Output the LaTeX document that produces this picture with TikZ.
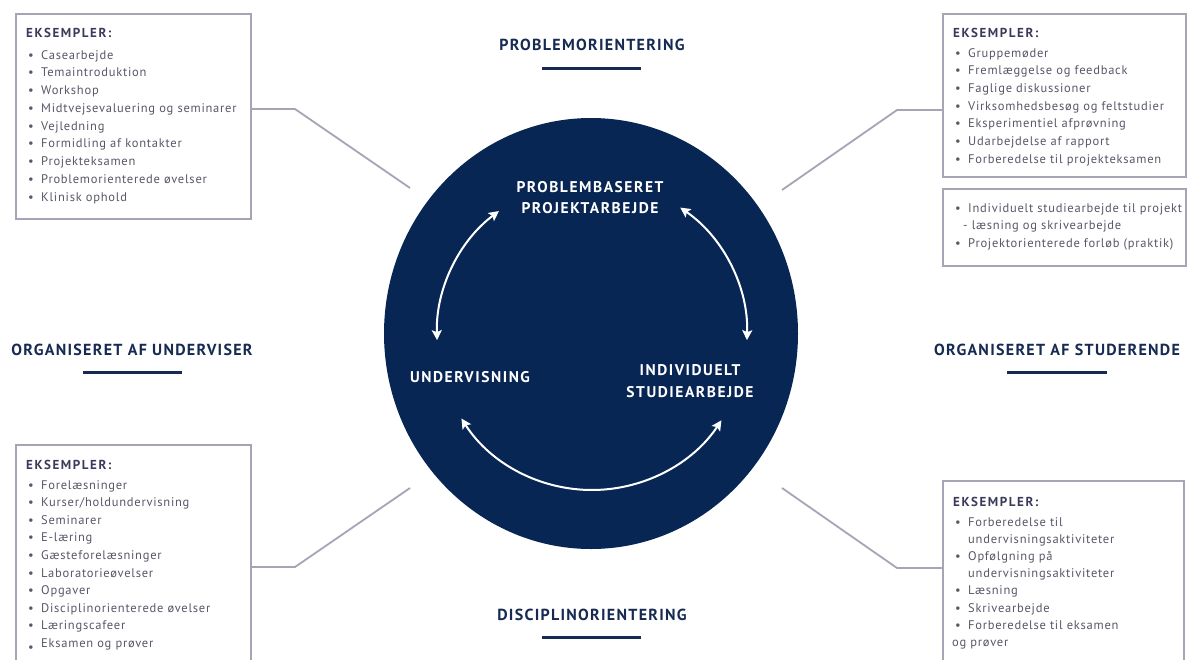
\documentclass[tikz,border=0pt]{standalone}
\usepackage{fontspec}
\setmainfont{PT Sans}
\usetikzlibrary{arrows.meta,calc}
\definecolor{navy}{RGB}{8,38,84}
\definecolor{headc}{RGB}{22,42,82}
\definecolor{boxc}{RGB}{165,165,182}
\definecolor{itemc}{RGB}{88,88,104}
\definecolor{titc}{RGB}{58,58,92}
\newcommand{\bul}{\makebox[13pt][l]{\textbullet}}
\begin{document}
\begin{tikzpicture}[x=1pt,y=-1pt,
  box/.style={draw=boxc, line width=1.8pt, anchor=north west, inner sep=0pt},
  conn/.style={draw=boxc, line width=1.8pt},
  item/.style={anchor=base west, inner sep=0pt, text=itemc, font=\fontsize{12.5}{14}\selectfont\addfontfeature{LetterSpace=6}},
  tit/.style={anchor=base west, inner sep=0pt, text=titc, font=\bfseries\fontsize{13}{14}\selectfont\addfontfeature{LetterSpace=12}},
  head/.style={inner sep=0pt, text=headc, font=\bfseries\fontsize{16}{18}\selectfont\addfontfeature{LetterSpace=8}},
  inner/.style={inner sep=0pt, text=white, align=center, font=\bfseries\fontsize{15.5}{21.5}\selectfont\addfontfeature{LetterSpace=10}},
  uline/.style={draw=headc, line width=3pt},
  arr/.style={draw=white, line width=2pt, {Stealth[length=10pt,width=10pt,inset=2pt]}-{Stealth[length=10pt,width=10pt,inset=2pt]}}]
\useasboundingbox (0,0) rectangle (1188,659);
\clip (0,0) rectangle (1188,659);
\fill[white] (0,0) rectangle (1188,659);

% central disc
\coordinate (c) at (591,333.5);
\fill[navy] (c) ellipse [x radius=207, y radius=215.5];

% headings
\node[head] (hp) at (592,45) {PROBLEMORIENTERING};
\draw[uline] (542,68) -- (641,68);
\node[head] (hd) at (592,615) {DISCIPLINORIENTERING};
\draw[uline] (542,637) -- (641,637);
\node[head] (hu) at (132,350) {ORGANISERET AF UNDERVISER};
\draw[uline] (83,372) -- (182,372);
\node[head] (hs) at (1057,350) {ORGANISERET AF STUDERENDE};
\draw[uline] (1007,372) -- (1107,372);

% inner labels
\node[inner] (pb) at (590,197.5) {PROBLEMBASERET\\PROJEKTARBEJDE};
\node[inner] (uv) at (470,377) {UNDERVISNING};
\node[inner] (is) at (690,381) {INDIVIDUELT\\STUDIEARBEJDE};

% cycle arrows
\coordinate (ac) at (592,335);
\coordinate (a1) at ($(ac)+(-126.9:155)$);
\coordinate (a3) at ($(ac)+(-55.3:155)$);
\coordinate (a5) at ($(ac)+(-212.6:155)$);
\draw[arr] (a1) arc[start angle=-126.9, end angle=-181.9, radius=155];
\draw[arr] (a3) arc[start angle=-55.3, end angle=1.9, radius=155];
\draw[arr] (a5) arc[start angle=-212.6, end angle=-326.6, radius=155];

% top-left box
\node[box, minimum width=235, minimum height=205] (tlbox) at (15,13) {};
\node[tit] (tlt) at (26,37) {EKSEMPLER:};
\foreach \t [count=\i] in {Casearbejde, Temaintroduktion, Workshop, Midtvejsevaluering og seminarer, Vejledning, Formidling af kontakter, Projekteksamen, Problemorienterede øvelser, Klinisk ophold}
  \node[item] (tl\i) at (28,{59+17.75*(\i-1)}) {\bul\t};
\coordinate (tlk) at (295,109);
\coordinate (tle) at (410,188);
\draw[conn] (tlbox.east |- tlk) -- (tlk) -- (tle);

% top-right box
\node[box, minimum width=243, minimum height=163] (trbox) at (942,13) {};
\node[tit] (trt) at (953,37) {EKSEMPLER:};
\foreach \t [count=\i] in {Gruppemøder, Fremlæggelse og feedback, Faglige diskussioner, Virksomhedsbesøg og feltstudier, Eksperimentiel afprøvning, Udarbejdelse af rapport, Forberedelse til projekteksamen}
  \node[item] (tr\i) at (955,{57+17.7*(\i-1)}) {\bul\t};
\coordinate (trk) at (897,110);
\coordinate (tre) at (782,190);
\draw[conn] (trbox.west |- trk) -- (trk) -- (tre);

% second right box
\node[box, minimum width=243, minimum height=77] (r2box) at (942,188) {};
\node[item] (r21) at (955,212) {\bul Individuelt studiearbejde til projekt};
\node[item] (r22) at (955,229.5) {\hspace{8pt}- læsning og skrivearbejde};
\node[item] (r23) at (955,247) {\bul Projektorienterede forløb (praktik)};

% bottom-left box
\node[box, minimum width=235, minimum height=240] (blbox) at (15,444) {};
\node[tit] (blt) at (26,469) {EKSEMPLER:};
\foreach \t [count=\i] in {Forelæsninger, Kurser/holdundervisning, Seminarer, E-læring, Gæsteforelæsninger, Laboratorieøvelser, Opgaver, Disciplinorienterede øvelser, Læringscafeer}
  \node[item] (bl\i) at (28,{489+17.6*(\i-1)}) {\bul\t};
\node[item] (bl10) at (28,647) {\makebox[13pt][l]{\raisebox{-4pt}{\textbullet}}Eksamen og prøver};
\coordinate (blk) at (295,567);
\coordinate (ble) at (410,488);
\draw[conn] (blbox.east |- blk) -- (blk) -- (ble);

% bottom-right box
\node[box, minimum width=241, minimum height=210] (brbox) at (942,480) {};
\node[tit] (brt) at (953,506) {EKSEMPLER:};
\node[item] (br1) at (955,526) {\bul Forberedelse til};
\node[item] (br2) at (955,543.2) {\hspace{13pt}undervisningsaktiviteter};
\node[item] (br3) at (955,560.4) {\bul Opfølgning på};
\node[item] (br4) at (955,577.6) {\hspace{13pt}undervisningsaktiviteter};
\node[item] (br5) at (955,594.8) {\bul Læsning};
\node[item] (br6) at (955,612) {\bul Skrivearbejde};
\node[item] (br7) at (955,629.2) {\bul Forberedelse til eksamen};
\node[item] (br8) at (952,646.4) {og prøver};
\coordinate (brk) at (897,568);
\coordinate (bre) at (782,488);
\draw[conn] (brbox.west |- brk) -- (brk) -- (bre);
\end{tikzpicture}
\end{document}
